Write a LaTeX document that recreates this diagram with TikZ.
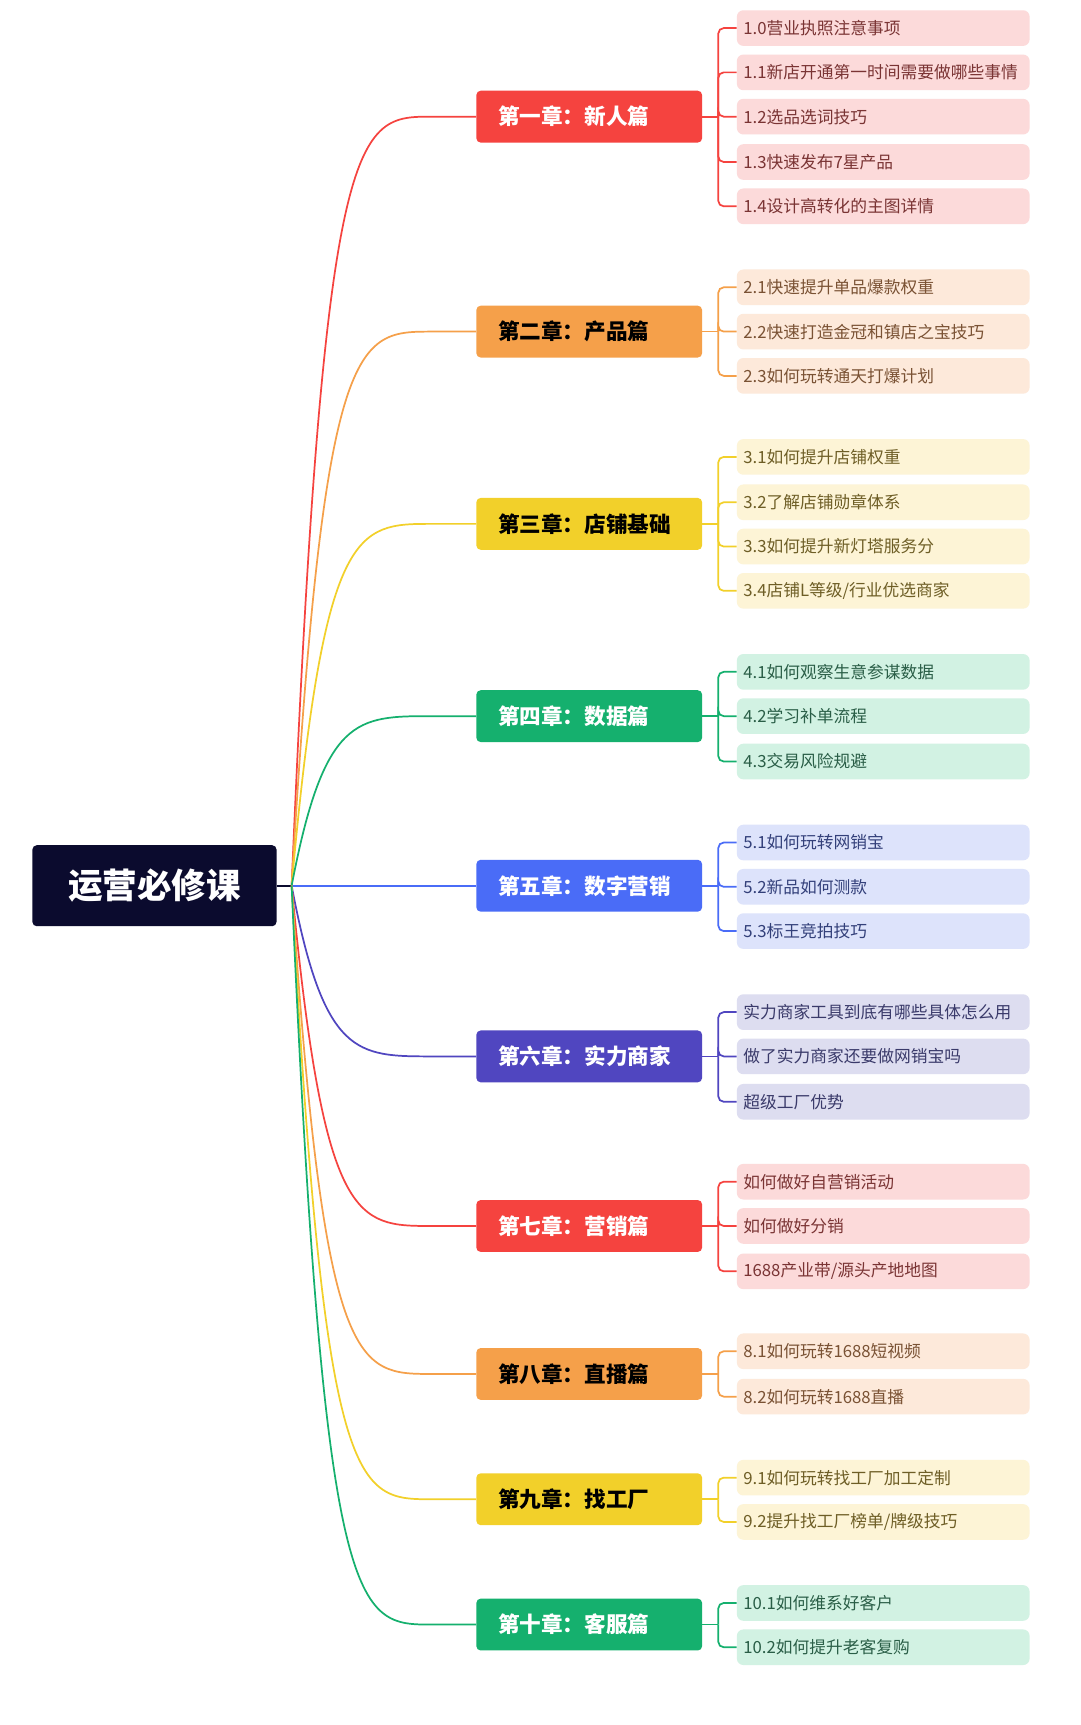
\documentclass[tikz,border=0pt]{standalone}
\usepackage{fontspec}
\setmainfont{Noto Sans CJK SC}
\definecolor{cR}{HTML}{F5433F}\definecolor{lR}{HTML}{FCDADA}\definecolor{tR}{HTML}{7A3434}
\definecolor{cO}{HTML}{F5A04A}\definecolor{lO}{HTML}{FDE9DA}\definecolor{tO}{HTML}{7A5234}
\definecolor{cY}{HTML}{F2D02A}\definecolor{lY}{HTML}{FDF4D6}\definecolor{tY}{HTML}{6E5E26}
\definecolor{cG}{HTML}{15B06E}\definecolor{lG}{HTML}{D2F2E3}\definecolor{tG}{HTML}{2A5E47}
\definecolor{cB}{HTML}{4A6CF7}\definecolor{lB}{HTML}{DDE3FB}\definecolor{tB}{HTML}{33407A}
\definecolor{cP}{HTML}{5046C0}\definecolor{lP}{HTML}{DDDDF0}\definecolor{tP}{HTML}{3A3A6A}
\definecolor{navy}{HTML}{0B0B2E}
\tikzset{
 chap/.style={rounded corners=4pt,minimum width=209pt,minimum height=48pt,inner sep=0pt},
 ctxt/.style={anchor=west,font=\bfseries\fontsize{20}{22}\selectfont,inner sep=0pt},
 leaf/.style={rounded corners=6pt,minimum width=271pt,minimum height=33pt,anchor=west,inner sep=0pt},
 ltxt/.style={anchor=west,font=\fontsize{15.5}{17}\selectfont,inner sep=0pt},
 link/.style={line width=1.6pt},
}
\begin{document}
\begin{tikzpicture}[x=1pt,y=-1pt]
\useasboundingbox[fill=white] (0,0) rectangle (1000,1597);
\node[fill=navy,text=white,rounded corners=4pt,minimum width=226pt,minimum height=75pt,font=\bfseries\fontsize{32}{34}\selectfont] (root) at (143,820) {运营必修课};
\coordinate (hub) at (270,820);
\draw[navy,link] (root.east) -- (hub);
\foreach \id/\y/\c/\tc/\t in {1/108/cR/white/第一章：新人篇, 2/307/cO/black/第二章：产品篇, 3/485/cY/black/第三章：店铺基础, 4/663/cG/white/第四章：数据篇, 5/820/cB/white/第五章：数字营销, 6/978/cP/white/第六章：实力商家, 7/1135/cR/white/第七章：营销篇, 8/1272/cO/black/第八章：直播篇, 9/1388/cY/black/第九章：找工厂, 10/1504/cG/white/第十章：客服篇}{
  \node[chap,fill=\c] (ch\id) at (545.5,\y) {};
  \node[ctxt,text=\tc] (ct\id) at (461,\y) {\t};
  \coordinate (bend\id) at (400,\y);
  \coordinate (br\id) at (665,\y);
  \draw[\c,link] (hub) .. controls (300,\y) and (330,\y) .. (bend\id) -- (ch\id.west);
  \draw[\c,link] (ch\id.east) -- (br\id);
}
\foreach \id/\y/\c/\l/\tc/\t/\k in {
 1/26/cR/lR/tR/1.0营业执照注意事项/a, 1/67/cR/lR/tR/1.1新店开通第一时间需要做哪些事情/b, 1/108/cR/lR/tR/1.2选品选词技巧/c, 1/150/cR/lR/tR/1.3快速发布7星产品/d, 1/191/cR/lR/tR/1.4设计高转化的主图详情/e,
 2/266/cO/lO/tO/2.1快速提升单品爆款权重/a, 2/307/cO/lO/tO/2.2快速打造金冠和镇店之宝技巧/b, 2/348/cO/lO/tO/2.3如何玩转通天打爆计划/c,
 3/423/cY/lY/tY/3.1如何提升店铺权重/a, 3/465/cY/lY/tY/3.2了解店铺勋章体系/b, 3/506/cY/lY/tY/3.3如何提升新灯塔服务分/c, 3/547/cY/lY/tY/{3.4店铺L等级/行业优选商家}/d,
 4/622/cG/lG/tG/4.1如何观察生意参谋数据/a, 4/663/cG/lG/tG/4.2学习补单流程/b, 4/705/cG/lG/tG/4.3交易风险规避/c,
 5/780/cB/lB/tB/5.1如何玩转网销宝/a, 5/821/cB/lB/tB/5.2新品如何测款/b, 5/862/cB/lB/tB/5.3标王竞拍技巧/c,
 6/937/cP/lP/tP/实力商家工具到底有哪些具体怎么用/a, 6/978/cP/lP/tP/做了实力商家还要做网销宝吗/b, 6/1020/cP/lP/tP/超级工厂优势/c,
 7/1094/cR/lR/tR/如何做好自营销活动/a, 7/1135/cR/lR/tR/如何做好分销/b, 7/1177/cR/lR/tR/{1688产业带/源头产地地图}/c,
 8/1251/cO/lO/tO/8.1如何玩转1688短视频/a, 8/1293/cO/lO/tO/8.2如何玩转1688直播/b,
 9/1368/cY/lY/tY/9.1如何玩转找工厂加工定制/a, 9/1409/cY/lY/tY/{9.2提升找工厂榜单/牌级技巧}/b,
 10/1484/cG/lG/tG/10.1如何维系好客户/a, 10/1525/cG/lG/tG/10.2如何提升老客复购/b}{
  \node[leaf,fill=\l] (lf\id\k) at (682,\y) {};
  \node[ltxt,text=\tc] (lt\id\k) at (688,\y) {\t};
  \draw[\c,link,rounded corners=5pt] (br\id) |- (lf\id\k.west);
}
\end{tikzpicture}
\end{document}
